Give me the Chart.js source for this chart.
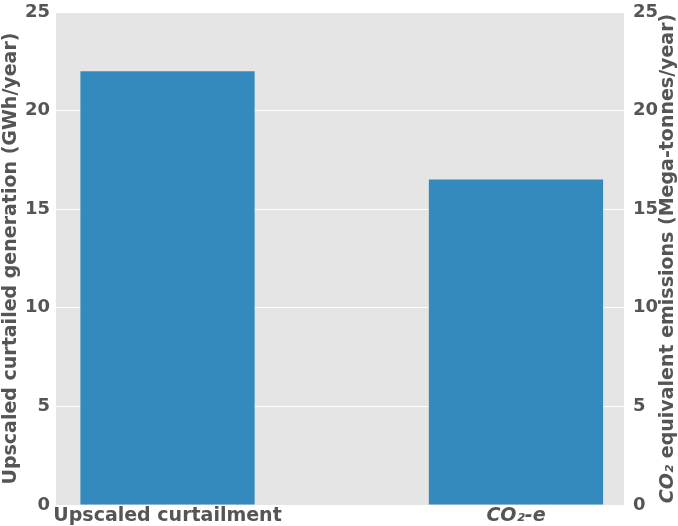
<!DOCTYPE html>
<html>
<head>
<meta charset="utf-8">
<script src="https://cdn.jsdelivr.net/npm/chart.js@4"></script>
<style>
html,body{margin:0;padding:0;background:#fff;}
#wrap{width:678px;height:526px;position:relative;}
</style>
</head>
<body>
<div id="wrap"><canvas id="c" width="678" height="526"></canvas></div>
<script>
const categories = ["Upscaled curtailment", "CO\u2082-e"];
const categoryPositions = [0, 1];
const values = [22.0, 16.5];
const yTicks = [0, 5, 10, 15, 20, 25];
const leftTitle = "Upscaled curtailed generation (GWh/year)";
const rightTitleItalic = "CO\u2082";
const rightTitleRest = " equivalent emissions (Mega-tonnes/year)";

const textColor = '#555555';
const FAM = 'DejaVu Sans';

const bgPlugin = {
  id: 'bg',
  beforeDraw(chart) {
    const {ctx, chartArea: a} = chart;
    ctx.save();
    ctx.fillStyle = '#E5E5E5';
    ctx.fillRect(a.left, a.top, a.right - a.left, a.bottom - a.top);
    ctx.restore();
  },
  afterDraw(chart) {
    // right axis title, reading bottom-to-top
    const {ctx, chartArea: a} = chart;
    ctx.save();
    const cx = 668, cy = (a.top + a.bottom) / 2;
    ctx.translate(cx, cy);
    ctx.rotate(-Math.PI / 2);
    ctx.fillStyle = textColor;
    ctx.textBaseline = 'middle';
    ctx.textAlign = 'left';
    const fItal = 'italic bold 19px "' + FAM + '"';
    const fReg = 'bold 19px "' + FAM + '"';
    ctx.font = fItal;
    const w1 = ctx.measureText(rightTitleItalic).width;
    ctx.font = fReg;
    const w2 = ctx.measureText(rightTitleRest).width;
    const start = -(w1 + w2) / 2;
    ctx.font = fItal;
    ctx.fillText(rightTitleItalic, start, 0);
    ctx.font = fReg;
    ctx.fillText(rightTitleRest, start + w1, 0);
    ctx.restore();
  }
};

function fixY(w) {
  return function (axis) { axis.width = w; axis.paddingTop = 0; axis.paddingBottom = 0; };
}

new Chart(document.getElementById('c'), {
  type: 'bar',
  data: {
    datasets: [{
      data: categoryPositions.map((x, i) => ({x: x, y: values[i]})),
      backgroundColor: '#348ABD',
      borderWidth: 0,
      barPercentage: 0.5,
      categoryPercentage: 1.0,
      yAxisID: 'y'
    }]
  },
  options: {
    responsive: false,
    animation: false,
    layout: {padding: {top: 12, left: 0, right: 0, bottom: 0}},
    plugins: {legend: {display: false}, tooltip: {enabled: false}},
    scales: {
      x: {
        type: 'linear',
        offset: false,
        min: -0.32, max: 1.31,
        afterBuildTicks(axis) { axis.ticks = categoryPositions.map(v => ({value: v})); },
        afterFit(axis) { axis.height = 21; axis.paddingLeft = 0; axis.paddingRight = 0; },
        ticks: {
          color: textColor,
          font: (ctx) => ({family: FAM, weight: 'bold', size: 19,
                           style: (ctx.tick && ctx.tick.value === 1) ? 'italic' : 'normal'}),
          padding: 0, maxRotation: 0, autoSkip: false,
          callback: (v) => categories[categoryPositions.indexOf(v)]
        },
        grid: {display: false, drawTicks: false},
        border: {display: false}
      },
      y: {
        position: 'left',
        min: 0, max: 25,
        afterBuildTicks(axis) { axis.ticks = yTicks.map(v => ({value: v})); },
        afterFit: fixY(56),
        ticks: {color: textColor, font: {family: FAM, weight: 'bold', size: 18}, padding: 6},
        grid: {color: '#FFFFFF', lineWidth: 1, drawTicks: false},
        border: {display: false},
        title: {display: true, text: leftTitle, color: textColor,
                font: {family: FAM, weight: 'bold', size: 19}, padding: {top: 0, bottom: 0}}
      },
      y2: {
        position: 'right',
        min: 0, max: 25,
        afterBuildTicks(axis) { axis.ticks = yTicks.map(v => ({value: v})); },
        afterFit: fixY(54),
        ticks: {color: textColor, font: {family: FAM, weight: 'bold', size: 18}, padding: 9},
        grid: {display: false, drawTicks: false},
        border: {display: false}
      }
    }
  },
  plugins: [bgPlugin]
});
</script>
</body>
</html>
